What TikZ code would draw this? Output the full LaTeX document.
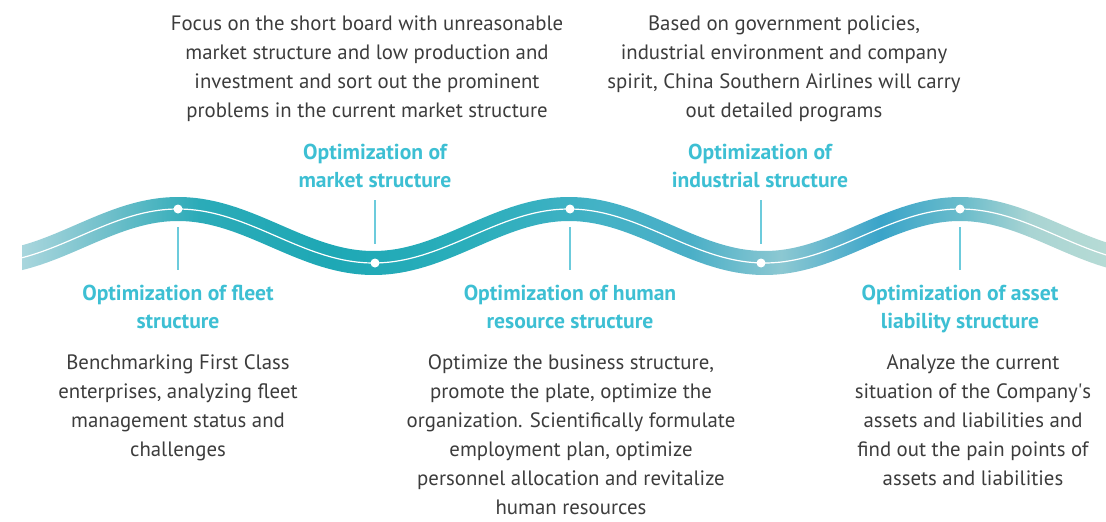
\documentclass[tikz,border=0pt]{standalone}
\usepackage{fontspec}
\setmainfont{PT Sans}
\usepackage{xcolor}
\usetikzlibrary{calc}

\definecolor{titlecyan}{HTML}{3DBFD3}
\definecolor{tickcyan}{HTML}{6CCBDC}
\definecolor{desctext}{HTML}{3C3C3C}
\definecolor{wa}{HTML}{A9D6DD}
\definecolor{wb}{HTML}{6FBFCA}
\definecolor{wc}{HTML}{2BABB8}
\definecolor{wd}{HTML}{1EA8B5}
\definecolor{we}{HTML}{2BAEBB}
\definecolor{wf}{HTML}{44B2C6}
\definecolor{wg}{HTML}{4AAFC7}
\definecolor{wh}{HTML}{8CC8D2}
\definecolor{wi}{HTML}{3AA4C9}
\definecolor{wj}{HTML}{6ABCCB}
\definecolor{wk}{HTML}{A9D4D3}
\definecolor{wl}{HTML}{B6DBD5}
\pgfdeclarehorizontalshading{waveshade}{100bp}{color(0bp)=(wa); color(25bp)=(wa);
  color(29bp)=(wb); color(33.2bp)=(wc); color(39.2bp)=(wd); color(45.7bp)=(we);
  color(51.7bp)=(wf); color(55.8bp)=(wg); color(60bp)=(wh); color(64.6bp)=(wi);
  color(68.3bp)=(wj); color(71.5bp)=(wk); color(75bp)=(wl); color(100bp)=(wl)}

\begin{document}
\begin{tikzpicture}[
  x=1pt, y=-1pt,
  declare function={wp(\x)=360*((\x-178)/391); wy(\x)=236-27*cos(wp(\x)); ws(\x)=0.43386*sin(wp(\x));},
  desc/.style={font=\fontsize{20.8}{29}\selectfont, text=desctext, align=center, anchor=base, inner sep=0pt},
  title/.style={font=\fontsize{21.6}{28}\selectfont\bfseries, text=titlecyan, align=center, anchor=base, inner sep=0pt},
  dot/.style={circle, fill=white, inner sep=0pt, minimum size=9pt},
  tick/.style={draw=tickcyan, line width=1.4pt},
]
\useasboundingbox (0,0) rectangle (1106,522);

% ribbon
\begin{scope}
\clip (22,0) rectangle (1106,522);
\clip plot[domain=10:1118, samples=240] ({\x+12*ws(\x)/sqrt(1+ws(\x)^2)}, {wy(\x)-12/sqrt(1+ws(\x)^2)})
  -- plot[domain=1118:10, samples=240] ({\x-12*ws(\x)/sqrt(1+ws(\x)^2)}, {wy(\x)+12/sqrt(1+ws(\x)^2)}) -- cycle;
\shade[shading=waveshade] (22,180) rectangle (1106,290);
\draw[white, line width=1.2pt] plot[domain=10:1118, samples=240] (\x, {wy(\x)});
\end{scope}

\node[dot] (d1) at (178,209) {};
\node[dot] (d2) at (375,263) {};
\node[dot] (d3) at (570,209) {};
\node[dot] (d4) at (761,263) {};
\node[dot] (d5) at (960,209) {};

\coordinate (k1a) at (178,227); \coordinate (k1b) at (178,270);
\coordinate (k2a) at (375,200); \coordinate (k2b) at (375,244);
\coordinate (k3a) at (570,227); \coordinate (k3b) at (570,270);
\coordinate (k4a) at (761,200); \coordinate (k4b) at (761,244);
\coordinate (k5a) at (960,227); \coordinate (k5b) at (960,270);
\draw[tick] (k1a) -- (k1b);
\draw[tick] (k2a) -- (k2b);
\draw[tick] (k3a) -- (k3b);
\draw[tick] (k4a) -- (k4b);
\draw[tick] (k5a) -- (k5b);

% titles (placed at the baseline of their last line)
\node[title] (fleet) at (178,328) {Optimization of fleet\\structure};
\node[title] (market) at (375,187.5) {Optimization of\\market structure};
\node[title] (human) at (570,328) {Optimization of human\\resource structure};
\node[title] (industry) at (760,187.5) {Optimization of\\industrial structure};
\node[title] (asset) at (960,328) {Optimization of asset\\liability structure};

% descriptions
\node[desc] (marketdesc) at (367,117.5) {Focus on the short board with unreasonable\\market structure and low production and\\investment and sort out the prominent\\problems in the current market structure};
\node[desc] (industrydesc) at (784,117.5) {Based on government policies,\\industrial environment and company\\spirit, China Southern Airlines will carry\\out detailed programs};
\node[desc] (fleetdesc) at (178,456.5) {Benchmarking First Class\\enterprises, analyzing fleet\\management status and\\challenges};
\node[desc] (humandesc) at (571,514.5) {Optimize the business structure,\\promote the plate, optimize the\\organization. Scientifically formulate\\employment plan, optimize\\personnel allocation and revitalize\\human resources};
\node[desc] (assetdesc) at (973,485.5) {Analyze the current\\situation of the Company\textquotesingle s\\assets and liabilities and\\find out the pain points of\\assets and liabilities};
\end{tikzpicture}
\end{document}
